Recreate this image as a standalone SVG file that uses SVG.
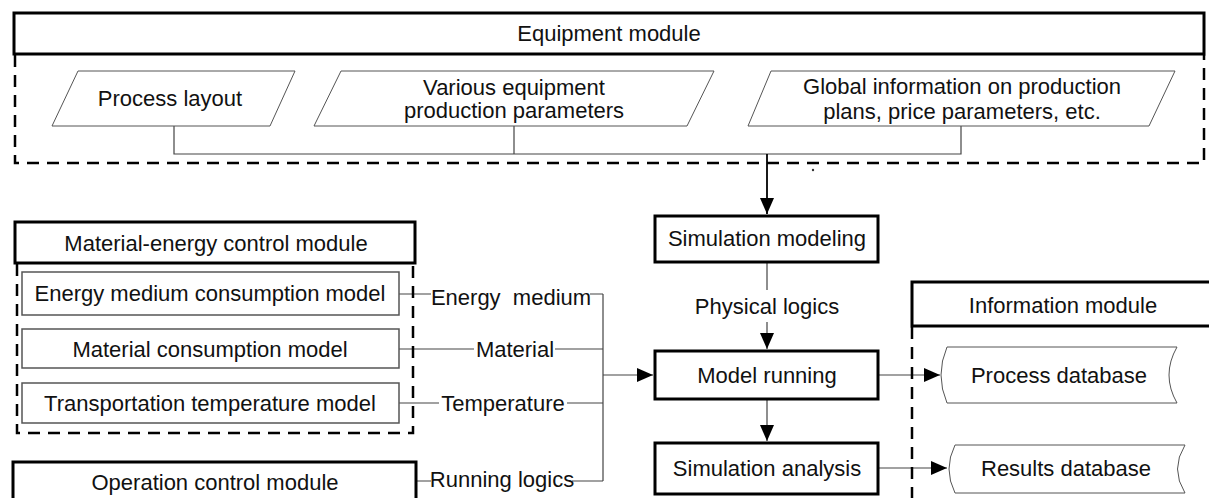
<svg xmlns="http://www.w3.org/2000/svg" width="1209" height="498" viewBox="0 0 1209 498">
<style>
text{font-family:"Liberation Sans",Arial,sans-serif;font-size:22px;fill:#111;text-anchor:middle;white-space:pre}
.thick{fill:#fff;stroke:#000;stroke-width:3}
.dash{fill:none;stroke:#000;stroke-width:2.5;stroke-dasharray:12 8}
.thin{fill:#fff;stroke:#555;stroke-width:1}
.model{fill:#fff;stroke:#555;stroke-width:1.5}
.conn{fill:none;stroke:#444;stroke-width:1.2}
.main{fill:none;stroke:#000;stroke-width:1.8}
</style>
<defs>
<marker id="arr" markerUnits="userSpaceOnUse" markerWidth="16" markerHeight="16" viewBox="0 0 16 16" refX="16" refY="8" orient="auto">
<path d="M0,1 L16,8 L0,15 Z" fill="#000"/>
</marker>
</defs>
<g id="connectors">
<path class="conn" d="M174,126 V154 H961 V126 M514,126 V154"/>
<path class="main" d="M767,154 V214" marker-end="url(#arr)"/>
<circle cx="813" cy="170" r="1.2" fill="#333"/>
<path class="conn" d="M767,262 V290 M767,322 V349" marker-end="url(#arr)"/>
<path class="conn" d="M767,399 V441" marker-end="url(#arr)"/>
<path class="conn" d="M399,294 H431 M590,294 H603 M399,349 H474 M555,349 H603 M399,403 H439 M567,403 H603 M416,481 H431 M572,481 H603 M603,294 V481"/>
<path class="conn" d="M603,375 H653" marker-end="url(#arr)"/>
<path class="conn" d="M878,375 H940" marker-end="url(#arr)"/>
<path class="conn" d="M878,468 H947" marker-end="url(#arr)"/>
<text x="511" y="305" style="text-anchor:middle">Energy  medium</text>
<text x="515" y="357">Material</text>
<text x="503" y="411">Temperature</text>
<text x="502" y="487">Running logics</text>
<text x="767" y="314">Physical logics</text>
</g>
<g id="equipment-module">
<rect class="thick" x="14" y="13" width="1190" height="41"/>
<path class="dash" d="M15,55 V163 H1204 V55"/>
<text x="609" y="41">Equipment module</text>
</g>
<g id="process-layout">
<polygon class="thin" points="78,71 295,71 270,126 52,126"/>
<text x="170" y="106">Process layout</text>
</g>
<g id="equipment-parameters">
<polygon class="thin" points="341,71 714,71 687,126 314,126"/>
<text x="514" y="95">Various equipment</text>
<text x="514" y="118">production parameters</text>
</g>
<g id="global-information">
<polygon class="thin" points="771,71 1175,71 1149,126 748,126"/>
<text x="962" y="94">Global information on production</text>
<text x="962" y="119">plans, price parameters, etc.</text>
</g>
<g id="material-energy-module">
<rect class="thick" x="15" y="222" width="400" height="41"/>
<path class="dash" d="M17,264 V433 H413 V264"/>
<text x="216" y="251">Material-energy control module</text>
</g>
<g id="energy-model">
<rect class="model" x="22" y="272" width="377" height="43"/>
<text x="210" y="301">Energy medium consumption model</text>
</g>
<g id="material-model">
<rect class="model" x="22" y="329" width="377" height="39"/>
<text x="210" y="357">Material consumption model</text>
</g>
<g id="temperature-model">
<rect class="model" x="22" y="383" width="377" height="40"/>
<text x="210" y="411">Transportation temperature model</text>
</g>
<g id="operation-control-module">
<rect class="thick" x="13" y="462" width="403" height="50"/>
<text x="215" y="490">Operation control module</text>
</g>
<g id="simulation-modeling">
<rect class="thick" x="655" y="216" width="223" height="46"/>
<text x="767" y="246">Simulation modeling</text>
</g>
<g id="model-running">
<rect class="thick" x="655" y="351" width="223" height="48"/>
<text x="767" y="383">Model running</text>
</g>
<g id="simulation-analysis">
<rect class="thick" x="655" y="443" width="223" height="51"/>
<text x="767" y="476">Simulation analysis</text>
</g>
<g id="information-module">
<rect class="thick" x="912" y="282" width="305" height="44"/>
<path class="dash" d="M912,327 V500"/>
<text x="1063" y="313">Information module</text>
</g>
<g id="process-database">
<path class="thin" d="M947,347 H1177 Q1161,375 1177,403 H947 Q935,375 947,347 Z"/>
<text x="1059" y="383">Process database</text>
</g>
<g id="results-database">
<path class="thin" d="M955,445 H1185 Q1170,469 1185,493 H955 Q943,469 955,445 Z"/>
<text x="1066" y="476">Results database</text>
</g>
</svg>
